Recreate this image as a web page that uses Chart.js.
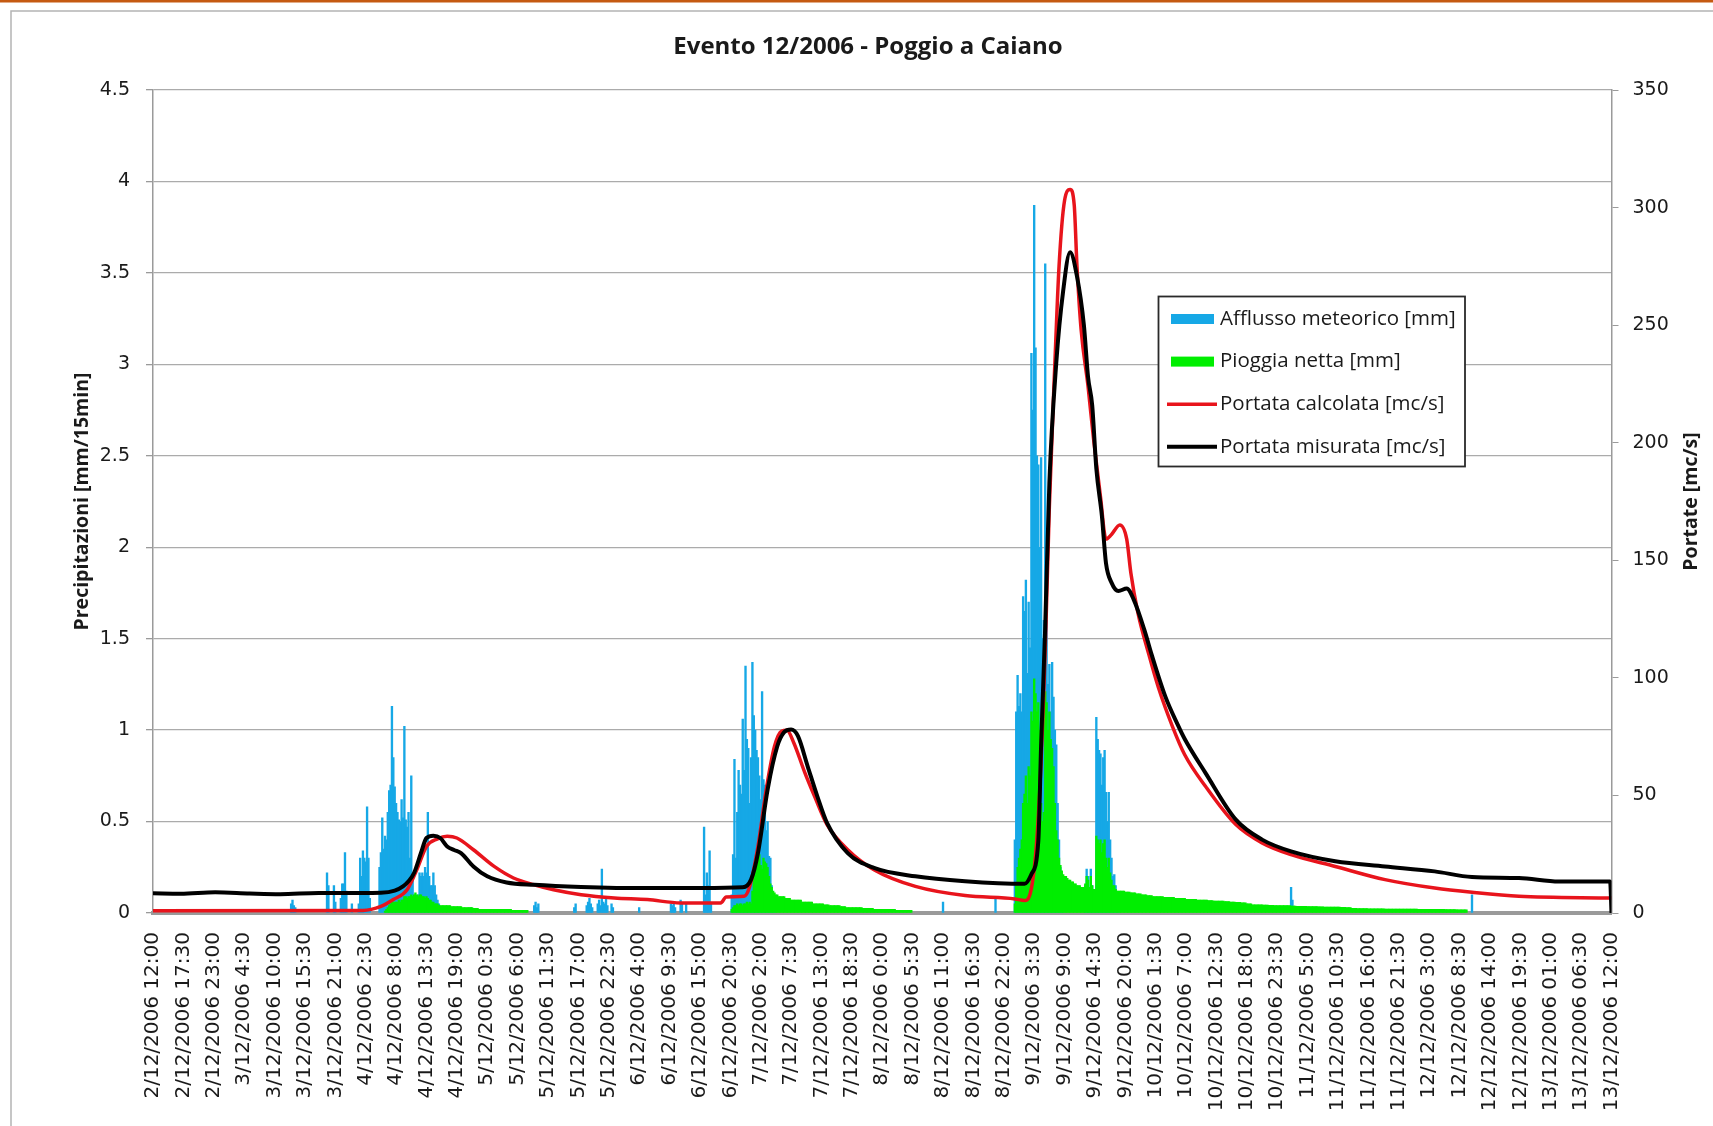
<!DOCTYPE html>
<html lang="it">
<head>
<meta charset="utf-8">
<title>Evento 12/2006 - Poggio a Caiano</title>
<script src="https://cdn.jsdelivr.net/npm/chart.js@4.4.1/dist/chart.umd.min.js"></script>
<style>
  html, body { margin: 0; padding: 0; background: #fff; }
  canvas { display: block; }
</style>
</head>
<body>
<canvas id="grafico" width="1713" height="1126"></canvas>
<script>
// Asse x: passi da 15 minuti a partire dal 2/12/2006 12:00 (0 ... 1056)
const PASSI_PER_ETICHETTA = 22;
const etichetteOrarie = [
    '2/12/2006 12:00', '2/12/2006 17:30', '2/12/2006 23:00', '3/12/2006 4:30', '3/12/2006 10:00',
    '3/12/2006 15:30', '3/12/2006 21:00', '4/12/2006 2:30', '4/12/2006 8:00', '4/12/2006 13:30',
    '4/12/2006 19:00', '5/12/2006 0:30', '5/12/2006 6:00', '5/12/2006 11:30', '5/12/2006 17:00',
    '5/12/2006 22:30', '6/12/2006 4:00', '6/12/2006 9:30', '6/12/2006 15:00', '6/12/2006 20:30',
    '7/12/2006 2:00', '7/12/2006 7:30', '7/12/2006 13:00', '7/12/2006 18:30', '8/12/2006 0:00',
    '8/12/2006 5:30', '8/12/2006 11:00', '8/12/2006 16:30', '8/12/2006 22:00', '9/12/2006 3:30',
    '9/12/2006 9:00', '9/12/2006 14:30', '9/12/2006 20:00', '10/12/2006 1:30', '10/12/2006 7:00',
    '10/12/2006 12:30', '10/12/2006 18:00', '10/12/2006 23:30', '11/12/2006 5:00', '11/12/2006 10:30',
    '11/12/2006 16:00', '11/12/2006 21:30', '12/12/2006 3:00', '12/12/2006 8:30', '12/12/2006 14:00',
    '12/12/2006 19:30', '13/12/2006 01:00', '13/12/2006 06:30', '13/12/2006 12:00'
];

// Afflusso meteorico [mm]: [passo iniziale, valori consecutivi ogni 15 min]
const afflussoMeteorico = [
    [100, [0.05, 0.07, 0.04, 0.03]],
    [126, [0.22, 0.15]],
    [131, [0.15, 0.06]],
    [136, [0.08, 0.16, 0.16, 0.33, 0.12]],
    [144, [0.05]],
    [149, [0.05, 0.30, 0.20, 0.34, 0.30, 0.28, 0.58, 0.30, 0.08]],
    [164, [0.25, 0.33, 0.52, 0.35, 0.42, 0.40, 0.55, 0.67, 0.70, 1.13, 0.85, 0.69, 0.60, 0.55, 0.51,
           0.50, 0.62, 0.52, 1.02, 0.51, 0.47, 0.55, 0.30, 0.75, 0.20, 0.10, 0.05, 0.08, 0.10, 0.22,
           0.20, 0.22, 0.20, 0.25, 0.22, 0.55, 0.20, 0.15, 0.15, 0.22, 0.15, 0.10, 0.07, 0.05]],
    [230, [0.03]],
    [276, [0.04, 0.06, 0.03, 0.05]],
    [305, [0.03, 0.05]],
    [314, [0.04, 0.06, 0.08, 0.05, 0.03]],
    [322, [0.05, 0.07, 0.04, 0.24, 0.06, 0.05, 0.08, 0.04]],
    [332, [0.05, 0.03]],
    [352, [0.03]],
    [375, [0.05, 0.04, 0.06, 0.03]],
    [382, [0.07, 0.05]],
    [386, [0.05]],
    [399, [0.47, 0.10, 0.22, 0.15, 0.34, 0.05]],
    [419, [0.10, 0.32, 0.84, 0.30, 0.55, 0.78, 0.70, 0.65, 1.06, 0.78, 1.35, 0.95, 0.90, 0.60, 0.85,
           1.37, 1.08, 1.00, 0.89, 0.85, 0.75, 0.62, 1.21, 0.73, 0.70, 0.45, 0.50, 0.31, 0.30, 0.15,
           0.08, 0.05]],
    [572, [0.06]],
    [610, [0.08]],
    [624, [0.40, 1.10, 1.30, 1.13, 1.20, 1.10, 1.73, 1.65, 1.82, 1.31, 1.70, 1.45, 3.06, 2.75, 3.87,
           3.09, 2.50, 2.45, 2.00, 2.49, 1.50, 1.60, 3.55, 1.60, 1.25, 1.36, 1.10, 1.37, 1.18, 1.00,
           0.92, 0.60, 0.40, 0.25, 0.15, 0.10]],
    [675, [0.15, 0.24, 0.20, 0.13, 0.24, 0.15, 0.10]],
    [683, [1.07, 0.95, 0.89, 0.87, 0.70, 0.85, 0.89, 0.66, 0.50, 0.66, 0.40, 0.30, 0.20, 0.21, 0.15,
           0.10, 0.06]],
    [824, [0.14, 0.07]],
    [955, [0.10]]
];

// Pioggia netta [mm]: [passo iniziale, valori, durata di ogni valore in passi]
const pioggiaNetta = [
    [168, [0.01, 0.02, 0.03, 0.04, 0.05, 0.07, 0.06, 0.06, 0.06, 0.06, 0.07, 0.06, 0.07, 0.07, 0.09,
           0.09, 0.08, 0.09, 0.09, 0.10, 0.09, 0.10, 0.11, 0.10, 0.09, 0.10, 0.10, 0.09, 0.09, 0.08,
           0.09, 0.08, 0.07, 0.07, 0.06, 0.06, 0.05, 0.05, 0.05, 0.04], 1],
    [208, [0.04, 0.04, 0.035, 0.035, 0.03, 0.03, 0.025, 0.02, 0.02, 0.02, 0.02, 0.02, 0.02, 0.015,
           0.015, 0.015], 4],
    [419, [0.02, 0.03, 0.04, 0.04, 0.05, 0.04, 0.05, 0.05, 0.04, 0.05, 0.05, 0.06, 0.05, 0.06, 0.05,
           0.12, 0.25, 0.29, 0.33, 0.30, 0.32, 0.26, 0.24, 0.30, 0.28, 0.27, 0.25, 0.20, 0.16, 0.14,
           0.12, 0.11, 0.10, 0.10, 0.09], 1],
    [454, [0.09, 0.08, 0.07, 0.07, 0.06, 0.06, 0.05, 0.05, 0.045, 0.04, 0.04, 0.035, 0.03, 0.03,
           0.03, 0.025, 0.025, 0.02, 0.02, 0.02, 0.02, 0.015, 0.015, 0.015], 4],
    [624, [0.05, 0.15, 0.25, 0.30, 0.35, 0.40, 0.60, 0.65, 0.75, 0.60, 0.80, 0.75,
           1.10, 1.05, 1.28, 1.20, 1.10, 1.15, 1.00, 0.60, 0.50, 0.55, 1.21, 1.15,
           1.00, 1.10, 0.95, 0.90, 0.80, 0.60, 0.45, 0.40, 0.30, 0.26, 0.23, 0.21,
           0.20, 0.20, 0.19, 0.18, 0.18, 0.17, 0.17, 0.16, 0.16, 0.15, 0.15, 0.15,
           0.14, 0.14, 0.14, 0.16, 0.20, 0.18, 0.14, 0.20, 0.15, 0.13, 0.13, 0.42,
           0.40, 0.38, 0.40, 0.33, 0.38, 0.40, 0.30, 0.25, 0.30, 0.22, 0.18, 0.15,
           0.15, 0.13, 0.12, 0.12], 1],
    [700, [0.12, 0.115, 0.11, 0.105, 0.10, 0.095, 0.09, 0.09, 0.085, 0.085, 0.08, 0.08, 0.075, 0.075,
           0.07, 0.07, 0.068, 0.065, 0.065, 0.062, 0.06, 0.058, 0.055, 0.05, 0.045, 0.045, 0.043,
           0.042, 0.04, 0.04, 0.04, 0.038, 0.037, 0.036, 0.035, 0.035, 0.034, 0.033, 0.032, 0.032,
           0.031, 0.03, 0.025, 0.024, 0.024, 0.023, 0.023, 0.023, 0.022, 0.022, 0.022, 0.021, 0.021,
           0.021, 0.02, 0.02, 0.02, 0.02, 0.02, 0.019, 0.019, 0.018, 0.018], 4]
];

// Portata calcolata [mc/s]: [passo, valore]
const portataCalcolata = [
    [0, 1.0], [152, 1.1], [165, 2.8], [174, 5.7], [184, 9.9], [191, 18.4], [198, 28.3], [206, 31.5],
    [213, 32.6], [220, 31.9], [232, 26.9], [247, 19.8], [261, 14.9], [276, 12.0], [290, 9.9],
    [310, 7.8], [334, 6.4], [358, 5.7], [382, 4.3], [411, 4.3], [415, 6.8], [428, 7.1], [432, 11.3],
    [438, 28.3], [444, 52.5], [450, 70.9], [455, 77.3], [459, 77.7], [464, 72.3], [472, 59.6],
    [479, 49.6], [488, 37.6], [503, 26.9], [522, 18.4], [552, 11.3], [588, 7.4], [624, 6.0],
    [631, 5.3], [635, 8.0], [641, 40.9], [646, 112], [649, 173], [653, 234], [656, 275], [660, 303],
    [664, 307.7], [667, 301], [669, 275], [672, 248], [677, 224], [681, 201.5], [686, 177],
    [690, 159], [694, 161], [700, 165], [705, 159], [708, 144.6], [713, 128], [721, 110],
    [728, 95.8], [738, 79.5], [747, 67.3], [762, 53.9], [784, 37.6], [803, 29.8], [824, 24.8],
    [856, 19.8], [892, 14.2], [928, 10.6], [955, 8.8], [989, 7.1], [1056, 6.4]
];

// Portata misurata [mc/s]: [passo, valore]
const portataMisurata = [
    [0, 8.4], [20, 8.2], [45, 8.8], [70, 8.3], [92, 8.0], [120, 8.5], [150, 8.5], [165, 8.6],
    [175, 9.5], [181, 11.3], [185, 13.5], [189, 17.0], [194, 25.5], [198, 31.9], [203, 32.9],
    [208, 31.9], [213, 28.3], [218, 26.8], [223, 25.5], [232, 19.8], [242, 15.6], [256, 13.0],
    [276, 12.0], [310, 11.1], [358, 10.6], [397, 10.6], [427, 10.9], [433, 14.2], [438, 25.5],
    [445, 52.5], [452, 70.9], [457, 76.9], [462, 78.0], [467, 75.2], [474, 62.4], [481, 49.6],
    [488, 38.3], [503, 25.5], [522, 19.2], [552, 15.6], [588, 13.5], [631, 12.4], [636, 16.5],
    [641, 30.7], [643, 71], [646, 122], [649, 183], [654, 234], [659, 264.6], [664, 281],
    [669, 270.7], [674, 250], [677, 228], [680, 216], [683, 189], [687, 169], [690, 148.7],
    [694, 140.5], [699, 136.9], [705, 138], [710, 133.4], [718, 120], [723, 110], [733, 92],
    [742, 80], [747, 74], [762, 59.6], [784, 39.7], [803, 31.2], [824, 26.2], [856, 22.0],
    [892, 19.8], [928, 17.7], [955, 15.3], [989, 14.9], [1018, 13.4], [1055, 13.4], [1056, 0]
];

// Trasforma gli scrosci in punti {x, y} da 15 minuti
function espandiScrosci(scrosci) {
    const punti = [];
    scrosci.forEach(([inizio, valori, durata = 1]) => {
        valori.forEach((v, i) => {
            for (let k = 0; k < durata; k++) {
                punti.push({ x: inizio + i * durata + k, y: v });
            }
        });
    });
    return punti;
}

function coppieInPunti(coppie) {
    return coppie.map(([x, y]) => ({ x: x, y: y }));
}

// Plugin per sfondo, titoli e legenda disegnati come nel foglio Excel
const decorazioni = {
    id: 'decorazioni',
    beforeDraw(chart) {
        const ctx = chart.ctx;
        ctx.save();
        ctx.fillStyle = '#ffffff';
        ctx.fillRect(0, 0, chart.width, chart.height);
        ctx.fillStyle = '#C55A11';
        ctx.fillRect(0, 0, chart.width, 2.5);
        ctx.strokeStyle = '#B4B4B4';
        ctx.lineWidth = 1.5;
        ctx.beginPath();
        ctx.moveTo(11, chart.height);
        ctx.lineTo(11, 11);
        ctx.lineTo(chart.width, 11);
        ctx.stroke();
        ctx.restore();
    },
    afterDraw(chart) {
        const ctx = chart.ctx;
        const area = chart.chartArea;
        const centroY = (area.top + area.bottom) / 2;
        ctx.save();
        ctx.fillStyle = '#1a1a1a';
        ctx.textBaseline = 'middle';
        ctx.textAlign = 'center';

        // titolo
        ctx.font = 'bold 24px "Open Sans"';
        ctx.fillText('Evento 12/2006 - Poggio a Caiano', 868, 47);

        // titoli degli assi verticali
        ctx.font = 'bold 19.5px "Open Sans"';
        [[82, 'Precipitazioni [mm/15min]'], [1691, 'Portate [mc/s]']].forEach(([x, testo]) => {
            ctx.save();
            ctx.translate(x, centroY);
            ctx.rotate(-Math.PI / 2);
            ctx.fillText(testo, 0, 0);
            ctx.restore();
        });

        // legenda
        const box = { left: 1158.5, top: 296.5, width: 306.5, height: 170 };
        ctx.fillStyle = '#ffffff';
        ctx.fillRect(box.left, box.top, box.width, box.height);
        ctx.strokeStyle = '#2a2a2a';
        ctx.lineWidth = 1.8;
        ctx.strokeRect(box.left, box.top, box.width, box.height);

        ctx.font = '20.5px "Open Sans"';
        ctx.textAlign = 'left';
        chart.data.datasets.forEach((ds, i) => {
            const y = 319 + i * 42.6;
            if (ds.type === 'bar') {
                ctx.fillStyle = ds.backgroundColor;
                ctx.fillRect(1171, y - 5, 43, 10);
            } else {
                ctx.strokeStyle = ds.borderColor;
                ctx.lineWidth = ds.borderWidth;
                ctx.beginPath();
                ctx.moveTo(1167, y);
                ctx.lineTo(1217, y);
                ctx.stroke();
            }
            ctx.fillStyle = '#1a1a1a';
            ctx.fillText(ds.label, 1220, y);
        });
        ctx.restore();
    }
};

Chart.defaults.font.family = '"DejaVu Sans", sans-serif';
Chart.defaults.color = '#1a1a1a';

const ctx = document.getElementById('grafico').getContext('2d');
new Chart(ctx, {
    type: 'line',
    data: {
        datasets: [{
            type: 'bar',
            label: 'Afflusso meteorico [mm]',
            data: espandiScrosci(afflussoMeteorico),
            backgroundColor: '#16A8E6',
            borderWidth: 0,
            barThickness: 1.7,
            grouped: false,
            yAxisID: 'y',
            order: 4
        }, {
            type: 'bar',
            label: 'Pioggia netta [mm]',
            data: espandiScrosci(pioggiaNetta),
            backgroundColor: '#00EE00',
            borderWidth: 0,
            barThickness: 1.7,
            grouped: false,
            yAxisID: 'y',
            order: 3
        }, {
            type: 'line',
            label: 'Portata calcolata [mc/s]',
            data: coppieInPunti(portataCalcolata),
            borderColor: '#E8141C',
            borderWidth: 3.5,
            pointRadius: 0,
            cubicInterpolationMode: 'monotone',
            yAxisID: 'y2',
            order: 2
        }, {
            type: 'line',
            label: 'Portata misurata [mc/s]',
            data: coppieInPunti(portataMisurata),
            borderColor: '#000000',
            borderWidth: 4,
            pointRadius: 0,
            cubicInterpolationMode: 'monotone',
            yAxisID: 'y2',
            order: 1
        }]
    },
    options: {
        responsive: false,
        animation: false,
        devicePixelRatio: 1,
        layout: { padding: { top: 90, left: 0, right: 0, bottom: 0 } },
        plugins: {
            legend: { display: false },
            title: { display: false },
            tooltip: { enabled: false }
        },
        scales: {
            x: {
                type: 'linear',
                min: 0,
                max: 1056,
                offset: false,
                z: 1,
                grid: { display: false, drawTicks: false },
                border: { display: true, color: '#9A9A9A', width: 4 },
                ticks: {
                    stepSize: PASSI_PER_ETICHETTA,
                    autoSkip: false,
                    maxRotation: 90,
                    minRotation: 90,
                    padding: 19,
                    font: { size: 20 },
                    callback: (v) => etichetteOrarie[Math.round(v / PASSI_PER_ETICHETTA)]
                },
                afterFit: (scale) => { scale.height = 213; }
            },
            y: {
                position: 'left',
                min: 0,
                max: 4.5,
                stacked: false,
                grid: { color: '#ABABAB', lineWidth: 1.3, tickLength: 7, tickColor: '#9A9A9A' },
                border: { color: '#9A9A9A', width: 1.5 },
                ticks: {
                    stepSize: 0.5,
                    padding: 16,
                    font: { size: 19 },
                    callback: (v) => String(v)
                },
                afterFit: (scale) => { scale.width = 153; }
            },
            y2: {
                position: 'right',
                min: 0,
                max: 350,
                grid: { drawOnChartArea: false, tickLength: 7, color: '#9A9A9A' },
                border: { color: '#9A9A9A', width: 1.5 },
                ticks: { stepSize: 50, padding: 14, font: { size: 19 } },
                afterFit: (scale) => { scale.width = 101.5; }
            }
        }
    },
    plugins: [decorazioni]
});
</script>
</body>
</html>
